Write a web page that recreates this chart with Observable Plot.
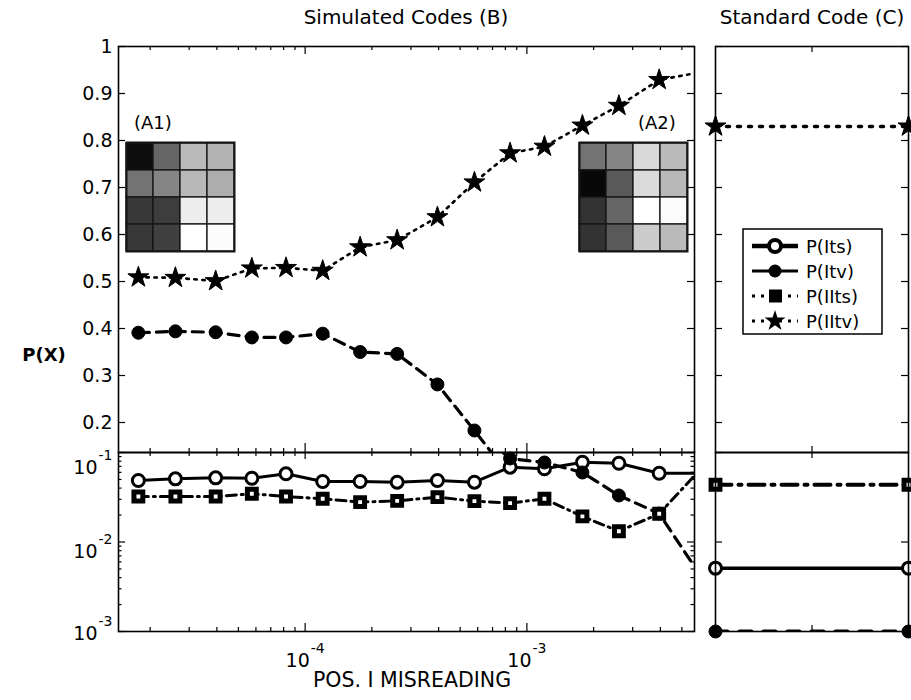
<!DOCTYPE html>
<html><head><meta charset="utf-8">
<script src="https://cdn.jsdelivr.net/npm/d3@7"></script>
<script src="https://cdn.jsdelivr.net/npm/@observablehq/plot@0.6"></script>
<style>
body{margin:0;background:#fff;}
#chart{position:relative;width:911px;height:700px;overflow:hidden;background:#fff;}
#chart svg{position:absolute;}
</style></head>
<body><div id="chart"></div>
<script>
// ---------- data ----------
const xPos  = [1.77e-5, 2.6e-5, 3.95e-5, 5.75e-5, 8.2e-5, 1.2e-4, 1.77e-4, 2.6e-4, 3.95e-4, 5.8e-4, 8.4e-4, 1.2e-3, 1.78e-3, 2.6e-3, 3.95e-3, 5.7e-3];
const pIts  = [0.0487, 0.0508, 0.0521, 0.0516, 0.0578, 0.0474, 0.0474, 0.0466, 0.0487, 0.0466, 0.0686, 0.0658, 0.0779, 0.0759, 0.0587, 0.0587];
const pItv  = [0.391, 0.394, 0.392, 0.381, 0.381, 0.389, 0.350, 0.346, 0.281, 0.183, 0.0857, 0.0773, 0.0598, 0.0331, 0.0208, 0.0053];
const pIIts = [0.0322, 0.0322, 0.0322, 0.0346, 0.0322, 0.0304, 0.0279, 0.0288, 0.0317, 0.0286, 0.0272, 0.0304, 0.0193, 0.0132, 0.0207, 0.055];
const pIItv = [0.509, 0.508, 0.501, 0.528, 0.529, 0.523, 0.573, 0.588, 0.637, 0.711, 0.773, 0.787, 0.832, 0.874, 0.929, 0.943];

const stdX     = [0, 1];
const stdIts   = [0.0051, 0.0051];
const stdItv   = [0.001, 0.001];
const stdIIts  = [0.0436, 0.0436];
const stdIItv  = [0.83, 0.83];

const gridA1 = [[0.05,0.40,0.73,0.70],[0.45,0.52,0.72,0.68],[0.22,0.24,0.93,0.93],[0.22,0.25,1.00,0.99]];
const gridA2 = [[0.45,0.52,0.85,0.73],[0.03,0.35,0.86,0.72],[0.20,0.40,1.00,0.99],[0.20,0.35,0.80,0.73]];

const seriesNames = ["P(Its)", "P(Itv)", "P(IIts)", "P(IItv)"];
const linTicks = [0.2, 0.3, 0.4, 0.5, 0.6, 0.7, 0.8, 0.9, 1];
const logMajor = [1e-3, 1e-2, 1e-1];
const xMajor = [1e-4, 1e-3];
const stdMid = [0.5];

const xDomain = [1.44e-5, 5.7e-3];
const topDomain = [0.1362, 1];
const logDomain = [1e-3, 1e-1];

// ---------- layout ----------
const W = 911, H = 700;
const mainL = 118, mainR = 694, stdL = 715, stdR = 908;
const yTop = 46, yMid = 452, yBot = 631;
const yLabelShift = {"-1": 15, "-2": 10, "-3": 2};
const FONT = "'DejaVu Sans', sans-serif";
const chart = document.getElementById("chart");

const rows = xPos.map((x, i) => ({x, its: pIts[i], itv: pItv[i], iits: pIIts[i], iitv: pIItv[i]}));
const stdRows = stdX.map((x, i) => ({x, its: stdIts[i], itv: stdItv[i], iits: stdIIts[i], iitv: stdIItv[i]}));

const xMinor = d3.range(-5, -2).flatMap(k => d3.range(2, 10).map(m => m * Math.pow(10, k)))
  .filter(v => v > xDomain[0] && v < xDomain[1]);
const logMinor = d3.range(-3, -1).flatMap(k => d3.range(2, 10).map(m => m * Math.pow(10, k)));

const inX = x => x >= xDomain[0] && x < xDomain[1] * 0.999;
const inTop = v => v >= topDomain[0] && v <= topDomain[1];
const inLog = v => v >= logDomain[0] && v <= logDomain[1];
const expFmt = d => "10^" + Math.round(Math.log10(d));

const TK = {stroke: "black", strokeWidth: 1.2};
const tx = (vals, len, fh, side) => Plot.ruleX(vals, {x: d => d, [side === "top" ? "insetBottom" : "insetTop"]: fh - len, ...TK});
const ty = (vals, len, fw, side) => Plot.ruleY(vals, {y: d => d, [side === "left" ? "insetRight" : "insetLeft"]: fw - len, ...TK});

function supify(svg) {
  d3.select(svg).selectAll("text").each(function() {
    const m = /^10\^(.+)$/.exec(this.textContent);
    if (!m) return;
    const isY = this.closest("[aria-label^='y-axis']") != null;
    const s = d3.select(this).text(null);
    s.append("tspan").attr("dy", isY ? (yLabelShift[m[1]] ?? 4) : 0).text("10");
    s.append("tspan").attr("dx", 1).attr("dy", -14).attr("font-size", 14).text(m[1]);
  });
}

function addPlot(opts, left = 0, top = 0) {
  const svg = Plot.plot({
    ...opts,
    style: {background: "transparent", fontFamily: FONT, fontSize: "19px", color: "black", overflow: "visible"}
  });
  supify(svg);
  svg.style.left = left + "px";
  svg.style.top = top + "px";
  chart.appendChild(svg);
  return svg;
}

// series styles
const sIts  = {stroke: "black", strokeWidth: 3};
const sItv  = {stroke: "black", strokeWidth: 3.2, strokeDasharray: "11,7"};
const sIIts = {stroke: "black", strokeWidth: 3, strokeDasharray: "10,5,2,5"};
const sIItv = {stroke: "black", strokeWidth: 2.6, strokeDasharray: "2.5,5.5"};
const mIts  = {r: 6, fill: "white", stroke: "black", strokeWidth: 3};
const mItv  = {r: 6.5, fill: "black", stroke: "black", strokeWidth: 1};
const mIIts = {symbol: "square", r: 5, fill: "white", stroke: "black", strokeWidth: 5};
const mIItv = {symbol: "star", r: 6.6, fill: "black", stroke: "black", strokeWidth: 1};

function seriesMarks(data, inY, lineStyles, filterX = () => true) {
  const keys = ["its", "itv", "iits", "iitv"];
  const ls = lineStyles, ms = [mIts, mItv, mIIts, mIItv];
  return keys.flatMap((k, i) => [
    Plot.line(data, {x: "x", y: k, ...ls[i], clip: true}),
    Plot.dot(data, {x: "x", y: k, ...ms[i], filter: d => filterX(d.x) && inY(d[k])})
  ]);
}

// ---------- top main (linear) ----------
const fwM = mainR - mainL, fwS = stdR - stdL, fhT = yMid - yTop, fhB = yBot - yMid;
addPlot({
  width: W, height: H, marginLeft: mainL, marginRight: W - mainR, marginTop: yTop, marginBottom: H - yMid,
  x: {type: "log", domain: xDomain, axis: null},
  y: {domain: topDomain, ticks: linTicks, tickFormat: d => d === 1 ? "1" : d.toFixed(1), tickSize: 0, tickPadding: 6, label: null},
  marks: [
    ...seriesMarks(rows, inTop, [sIts, sItv, sIIts, sIItv], inX),
    tx(xMinor, 4, fhT, "top"), tx(xMajor, 8, fhT, "top"),
    tx(xMinor, 4, fhT, "bottom"), tx(xMajor, 9, fhT, "bottom"),
    ty(linTicks, 7, fwM, "left"), ty(linTicks, 7, fwM, "right"),
    Plot.frame({stroke: "black", strokeWidth: 1.6})
  ]
});

// ---------- bottom main (log) ----------
addPlot({
  width: W, height: H, marginLeft: mainL, marginRight: W - mainR, marginTop: yMid, marginBottom: H - yBot,
  x: {type: "log", domain: xDomain, ticks: xMajor, tickFormat: expFmt, tickSize: 0, tickPadding: 22, label: null},
  y: {type: "log", domain: logDomain, ticks: logMajor, tickFormat: expFmt, tickSize: 0, tickPadding: 6, label: null},
  marks: [
    ...seriesMarks(rows, inLog, [sIts, sItv, sIIts, sIItv], inX),
    tx(xMinor, 4, fhB, "top"), tx(xMajor, 7, fhB, "top"),
    tx(xMinor, 4, fhB, "bottom"), tx(xMajor, 8, fhB, "bottom"),
    ty(logMinor, 3.5, fwM, "left"), ty(logMajor, 7, fwM, "left"),
    ty(logMinor, 3.5, fwM, "right"), ty(logMajor, 7, fwM, "right"),
    Plot.frame({stroke: "black", strokeWidth: 1.6})
  ]
});

// ---------- standard code panels ----------
const stdLines = [
  {stroke: "black", strokeWidth: 3.5},
  {stroke: "black", strokeWidth: 4, strokeDasharray: "12,12"},
  {stroke: "black", strokeWidth: 4, strokeDasharray: "16,7,3,7"},
  {stroke: "black", strokeWidth: 3.5, strokeDasharray: "3,8"}
];
addPlot({
  width: W, height: H, marginLeft: stdL, marginRight: W - stdR, marginTop: yTop, marginBottom: H - yMid,
  x: {domain: [0, 1], axis: null},
  y: {domain: topDomain, axis: null},
  marks: [
    ...seriesMarks(stdRows, inTop, stdLines),
    tx(stdMid, 6, fhT, "top"), tx(stdMid, 6, fhT, "bottom"),
    ty(linTicks, 7, fwS, "left"), ty(linTicks, 7, fwS, "right"),
    Plot.frame({stroke: "black", strokeWidth: 1.6})
  ]
});
addPlot({
  width: W, height: H, marginLeft: stdL, marginRight: W - stdR, marginTop: yMid, marginBottom: H - yBot,
  x: {domain: [0, 1], axis: null},
  y: {type: "log", domain: logDomain, axis: null},
  marks: [
    ...seriesMarks(stdRows, inLog, stdLines),
    tx(stdMid, 6, fhB, "top"), tx(stdMid, 6, fhB, "bottom"),
    ty(logMajor, 7, fwS, "left"), ty(logMajor, 7, fwS, "right"),
    Plot.frame({stroke: "black", strokeWidth: 1.6})
  ]
});

// ---------- insets ----------
function inset(grid, left, top) {
  const cells = grid.flatMap((row, r) => row.map((v, c) => ({r, c, v})));
  addPlot({
    width: 108, height: 109, margin: 0,
    x: {type: "band", domain: [0, 1, 2, 3], padding: 0, axis: null},
    y: {type: "band", domain: [0, 1, 2, 3], padding: 0, axis: null},
    color: {type: "linear", domain: [0, 1], range: ["black", "white"], interpolate: "rgb"},
    marks: [
      Plot.cell(cells, {x: "c", y: "r", fill: "v", stroke: "#151515", strokeWidth: 1.3}),
      Plot.frame({stroke: "#151515", strokeWidth: 2})
    ]
  }, left, top);
}
inset(gridA1, 126, 142);
inset(gridA2, 579, 142);

// ---------- overlay text & legend ----------
const ov = d3.create("svg").attr("width", W).attr("height", H)
  .style("left", "0px").style("top", "0px")
  .attr("font-family", FONT).attr("fill", "black");
ov.append("text").attr("x", 406).attr("y", 24).attr("text-anchor", "middle").attr("font-size", 20).text("Simulated Codes (B)");
ov.append("text").attr("x", 812).attr("y", 24).attr("text-anchor", "middle").attr("font-size", 20).text("Standard Code (C)");
ov.append("text").attr("x", 412).attr("y", 687).attr("text-anchor", "middle").attr("font-size", 20.5).text("POS. I MISREADING");
ov.append("text").attr("x", 44).attr("y", 361).attr("text-anchor", "middle").attr("font-size", 18).attr("font-weight", "bold").text("P(X)");
ov.append("text").attr("x", 134).attr("y", 129).attr("font-size", 18).text("(A1)");
ov.append("text").attr("x", 638).attr("y", 129).attr("font-size", 18).text("(A2)");

const lg = ov.append("g");
lg.append("rect").attr("x", 743).attr("y", 229).attr("width", 139).attr("height", 105)
  .attr("fill", "white").attr("stroke", "black").attr("stroke-width", 1.5);
const legLines = [
  {w: 4.5, dash: null}, {w: 3, dash: null}, {w: 3, dash: "3,6"}, {w: 3, dash: "3,6"}
];
seriesNames.forEach((name, i) => {
  const y = 246 + i * 25;
  lg.append("line").attr("x1", 752).attr("x2", 798).attr("y1", y).attr("y2", y)
    .attr("stroke", "black").attr("stroke-width", legLines[i].w).attr("stroke-dasharray", legLines[i].dash);
  if (i === 0) lg.append("circle").attr("cx", 775).attr("cy", y).attr("r", 6).attr("fill", "white").attr("stroke", "black").attr("stroke-width", 4);
  if (i === 1) lg.append("circle").attr("cx", 775).attr("cy", y).attr("r", 6.5).attr("fill", "black");
  if (i === 2) lg.append("rect").attr("x", 769).attr("y", y - 6.5).attr("width", 13).attr("height", 13).attr("fill", "black");
  if (i === 3) lg.append("path").attr("transform", `translate(775,${y})`).attr("d", d3.symbol(d3.symbolStar, 137)()).attr("fill", "black");
  lg.append("text").attr("x", 806).attr("y", y + 6.5).attr("font-size", 18).text(name);
});
chart.appendChild(ov.node());
</script>
</body></html>
